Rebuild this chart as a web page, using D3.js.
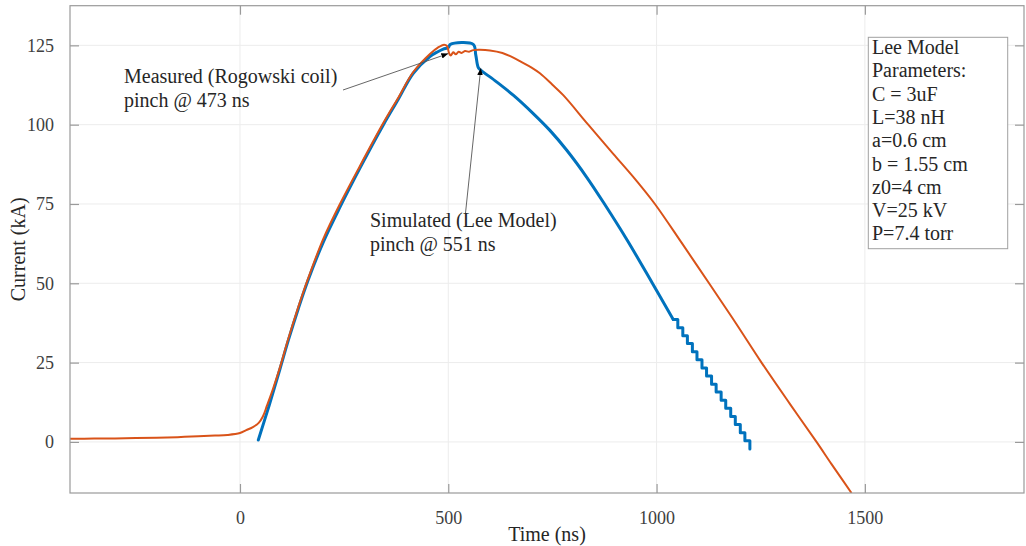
<!DOCTYPE html>
<html><head><meta charset="utf-8">
<script src="https://cdn.jsdelivr.net/npm/d3@7/dist/d3.min.js"></script>
<style>body{margin:0;background:#fff}svg{display:block}</style>
</head><body>
<svg id="c" width="1026" height="546"></svg>
<script>
// ---- data ----
const xTicks = [0, 500, 1000, 1500];
const yTicks = [0, 25, 50, 75, 100, 125];
// measured (Rogowski coil): [time ns, current kA]
const measured = [[-408,1.0],[-350,1.05],[-300,1.1],[-250,1.2],[-200,1.3],[-150,1.5],[-100,1.8],[-60,2.0],[-30,2.2],[0,2.8],[15,3.7],[30,4.6],[45,6.0],[55,8.0],[65,11.5],[80,17],[96,23.5],[116,32.5],[140,42.5],[163,51.3],[200,64],[240,75],[288,87],[344,100.5],[380,108.5],[416,116.6],[456,122.3],[475,124.3],[490,125.2],[497,124.8],[502,122.5],[506,121.8],[512,122.8],[518,122.2],[525,123],[532,122.6],[540,123.2],[550,123],[560,123.5],[576,123.6],[600,123.4],[630,122.6],[650,121.5],[675,119.8],[700,118],[720,116.2],[750,112.6],[776,109.3],[836,100],[896,90.8],[950,82.6],[996,75],[1060,62.8],[1126,50],[1190,37.5],[1252,25],[1320,12],[1384,0],[1420,-7],[1468,-16.1]];
// simulated (Lee model), smooth part then the stepped tail
const simulated = [[44,0.6],[70,11.5],[96,23],[116,32],[140,42],[163,50.8],[200,63],[240,74],[288,86.3],[344,99.9],[380,108],[416,116.2],[456,121.5],[475,123],[488,123.8],[500,124.3],[505,125.3],[560,125.3],[566,122],[572,118],[578,117.2],[616,113.5],[656,109.3],[704,103.5],[744,98.2],[784,92],[832,83.5],[875,75],[930,63.5],[990,50],[1040,38.6]];
const simulatedSteps = [[1040,38.6],[1051,38.6],[1051,36],[1063,36],[1063,33.5],[1074,33.5],[1074,31],[1086,31],[1086,28.4],[1097,28.4],[1097,25.9],[1109,25.9],[1109,23.3],[1120,23.3],[1120,20.8],[1132,20.8],[1132,18.2],[1143,18.2],[1143,15.7],[1155,15.7],[1155,13.1],[1166,13.1],[1166,10.6],[1178,10.6],[1178,8],[1189,8],[1189,5.5],[1201,5.5],[1201,2.9],[1212,2.9],[1212,0.4],[1224,0.4],[1224,-2.2]];
const paramLines = ["Lee Model","Parameters:","C = 3uF","L=38 nH","a=0.6 cm","b = 1.55 cm","z0=4 cm","V=25 kV","P=7.4 torr"];
const measuredLabel = ["Measured (Rogowski coil)","pinch @ 473 ns"];
const simulatedLabel = ["Simulated (Lee Model)","pinch @ 551 ns"];

// ---- layout ----
const L = 70, R = 1024, T = 5.7, B = 493;
const FONT = "'Liberation Serif', 'Times New Roman', serif";
const svg = d3.select("#c");
const x = d3.scaleLinear().domain([-408, 1882]).range([L, R]);
const y = d3.scaleLinear().domain([-16.1, 137.5]).range([B, T]);

// grid
const g = svg.append("g");
g.selectAll(".gx").data(xTicks).join("line")
  .attr("x1", d => x(d)).attr("x2", d => x(d)).attr("y1", T).attr("y2", B)
  .attr("stroke", "#ececec").attr("stroke-width", 1);
g.selectAll(".gy").data(yTicks).join("line")
  .attr("x1", L).attr("x2", R).attr("y1", d => y(d)).attr("y2", d => y(d))
  .attr("stroke", "#ececec").attr("stroke-width", 1);

// lines
const smooth = d3.line().x(d => x(d[0])).y(d => y(d[1])).curve(d3.curveCatmullRom.alpha(0.5));
const straight = d3.line().x(d => x(d[0])).y(d => y(d[1]));
svg.append("clipPath").attr("id", "clp").append("rect")
  .attr("x", L).attr("y", T).attr("width", R - L).attr("height", B - T);
const blueG = svg.append("g").attr("clip-path", "url(#clp)");
blueG.append("path").datum(simulated).attr("d", smooth).attr("fill", "none")
  .attr("stroke", "#0072BD").attr("stroke-width", 3).attr("stroke-linejoin", "round").attr("stroke-linecap", "round");
blueG.append("path").datum(simulatedSteps).attr("d", straight).attr("fill", "none")
  .attr("stroke", "#0072BD").attr("stroke-width", 3).attr("stroke-linejoin", "round").attr("stroke-linecap", "round");
svg.append("path").datum(measured).attr("d", smooth).attr("fill", "none")
  .attr("stroke", "#D95319").attr("stroke-width", 2).attr("stroke-linejoin", "round")
  .attr("clip-path", "url(#clp)");

// axes box
const axisColor = "#9a9a9a";
svg.append("rect").attr("x", L).attr("y", T).attr("width", R - L).attr("height", B - T)
  .attr("fill", "none").attr("stroke", axisColor).attr("stroke-width", 1.2);

const xAxisB = d3.axisBottom(x).tickValues(xTicks).tickSize(-9).tickPadding(18).tickFormat(d3.format("d"));
const xAxisT = d3.axisTop(x).tickValues(xTicks).tickSize(-9).tickFormat("");
const yAxisL = d3.axisLeft(y).tickValues(yTicks).tickSize(-9).tickPadding(16).tickFormat(d3.format("d"));
const yAxisR = d3.axisRight(y).tickValues(yTicks).tickSize(-9).tickFormat("");
function styleAxis(sel) {
  sel.select(".domain").remove();
  sel.selectAll(".tick line").attr("stroke", axisColor).attr("stroke-width", 1.2);
  sel.selectAll(".tick text").attr("fill", "#404040").style("font-family", FONT).style("font-size", "18px");
}
svg.append("g").attr("transform", `translate(0,${B})`).call(xAxisB).call(styleAxis);
svg.append("g").attr("transform", `translate(0,${T})`).call(xAxisT).call(styleAxis);
svg.append("g").attr("transform", `translate(${L},0)`).call(yAxisL).call(styleAxis);
svg.append("g").attr("transform", `translate(${R},0)`).call(yAxisR).call(styleAxis);

// axis labels
svg.append("text").attr("x", (L + R) / 2).attr("y", 541).attr("text-anchor", "middle")
  .style("font-family", FONT).style("font-size", "20px").attr("fill", "#262626").text("Time (ns)");
svg.append("text").attr("transform", `translate(25,${(T + B) / 2}) rotate(-90)`).attr("text-anchor", "middle")
  .style("font-family", FONT).style("font-size", "20px").attr("fill", "#262626").text("Current (kA)");

// arrow marker
svg.append("defs").append("marker").attr("id", "ah").attr("viewBox", "0 0 10 10")
  .attr("refX", 10).attr("refY", 5).attr("markerWidth", 7).attr("markerHeight", 7)
  .attr("markerUnits", "userSpaceOnUse").attr("orient", "auto")
  .append("path").attr("d", "M0,1 L10,5 L0,9 Z").attr("fill", "#000");

// annotations (arrow tip position in data coords)
const tipMeasured = [500, 122.4], tipSim = [578, 117.8];
svg.append("line").attr("x1", 343).attr("y1", 90).attr("x2", x(tipMeasured[0])).attr("y2", y(tipMeasured[1]))
  .attr("stroke", "#555").attr("stroke-width", 0.9).attr("marker-end", "url(#ah)");
svg.append("line").attr("x1", 465.5).attr("y1", 213).attr("x2", x(tipSim[0])).attr("y2", y(tipSim[1]))
  .attr("stroke", "#555").attr("stroke-width", 0.9).attr("marker-end", "url(#ah)");

function multiText(lines, x0, y0, dy) {
  const t = svg.append("text").style("font-family", FONT).style("font-size", "20px").attr("fill", "#262626");
  lines.forEach((s, i) => t.append("tspan").attr("x", x0).attr("y", y0 + i * dy).text(s));
}
multiText(measuredLabel, 124, 83, 24);
multiText(simulatedLabel, 370, 227, 24);

// parameter box
svg.append("rect").attr("x", 868.3).attr("y", 37.3).attr("width", 139.4).attr("height", 211.4)
  .attr("fill", "#fff").attr("stroke", "#a0a0a0").attr("stroke-width", 1);
multiText(paramLines, 872, 54, 23.3);
</script>
</body></html>
